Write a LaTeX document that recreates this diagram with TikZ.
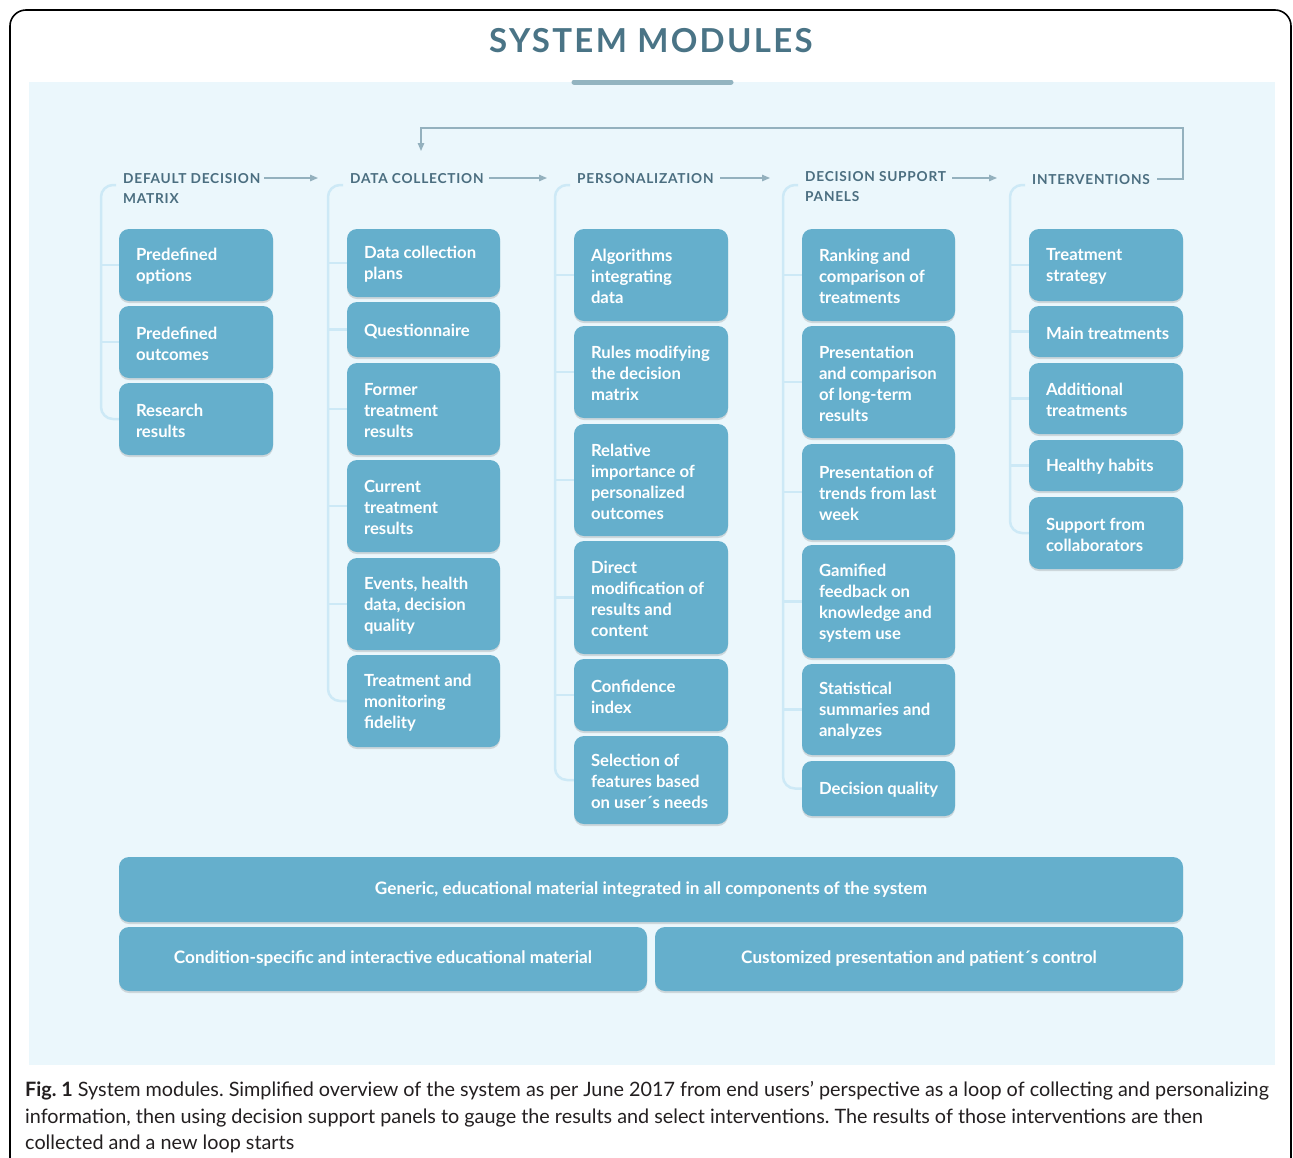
\documentclass[tikz,border=0pt]{standalone}
\usepackage{fontspec}
\setmainfont{Lato}
\frenchspacing
\usetikzlibrary{shadows,arrows.meta}
\definecolor{panelbg}{HTML}{EBF7FC}
\definecolor{boxc}{HTML}{65AFCC}
\definecolor{hdrc}{HTML}{4B6E80}
\definecolor{titlec}{HTML}{4A7486}
\definecolor{brc}{HTML}{CDE9F6}
\definecolor{arrc}{HTML}{94B1BE}
\definecolor{barc}{HTML}{93B4C0}
\definecolor{capc}{HTML}{231F20}
\newcommand\bx[6]{%
  \pgfmathsetmacro\bw{#4-#2}\pgfmathsetmacro\bh{#5-#3}%
  \node[modbox, minimum width=\bw pt, minimum height=\bh pt] (#1) at ({(#2+#4)/2},{(#3+#5)/2}) {};
  \node[boxtxt, anchor=west] (#1t) at ([xshift=17pt,yshift=-1.5pt]#1.west) {#6};}
\newcommand\wbx[6]{%
  \pgfmathsetmacro\bw{#4-#2}\pgfmathsetmacro\bh{#5-#3}%
  \node[modbox, text=white, font=\fontsize{17.2}{21}\selectfont\bfseries, align=center, minimum width=\bw pt, minimum height=\bh pt] (#1) at ({(#2+#4)/2},{(#3+#5)/2}) {#6};}
\begin{document}
\begin{tikzpicture}[x=1pt,y=-1pt,
  modbox/.style={fill=boxc, rounded corners=10pt, inner sep=0pt,
     drop shadow={shadow xshift=0pt, shadow yshift=-2pt, opacity=0.22, fill=black!60}},
  boxtxt/.style={inner sep=0pt, text=white, align=left, font=\fontsize{16.7}{21}\selectfont\bfseries},
  hdr/.style={anchor=base west, inner sep=0pt, text=hdrc, font=\fontsize{13.7}{20}\selectfont\bfseries\addfontfeature{LetterSpace=5.5}},
  arr/.style={draw=arrc, line width=1.3pt, -{Triangle[length=8pt,width=6.5pt]}},
  loopl/.style={draw=arrc, line width=1.3pt},
  br/.style={draw=brc, line width=2.5pt},
  capt/.style={anchor=base west, inner sep=0pt, text=capc, font=\fontsize{19.8}{26}\selectfont}]
\useasboundingbox (0,0) rectangle (1293,1157);
\fill[white] (0,0) rectangle (1293,1157);
\begin{scope}
\clip (0,0) rectangle (1293,1157);
\draw[black, line width=1.6pt, rounded corners=16pt] (10,1220) -- (10,10) -- (1291,10) -- (1291,1220);
\end{scope}
\fill[panelbg] (29,82) rectangle (1275,1065);
\node[inner sep=0pt, text=titlec, font=\fontsize{33}{40}\selectfont\bfseries\addfontfeature{LetterSpace=7}, anchor=base] (title) at (651,52) {SYSTEM MODULES};
\draw[barc, line width=5pt, line cap=round] (574,82) -- (731,82);

% headers
\node[hdr] (h1) at (123,183) {DEFAULT DECISION};
\node[hdr] (h1b) at (123,203) {MATRIX};
\node[hdr] (h2) at (350,183) {DATA COLLECTION};
\node[hdr] (h3) at (577,183) {PERSONALIZATION};
\node[hdr] (h4) at (805,181) {DECISION SUPPORT};
\node[hdr] (h4b) at (805,201) {PANELS};
\node[hdr] (h5) at (1032,184) {INTERVENTIONS};

\coordinate (a1s) at (264,178); \coordinate (a1e) at (318,178);
\coordinate (a2s) at (489,178); \coordinate (a2e) at (547,178);
\coordinate (a3s) at (720,178); \coordinate (a3e) at (770,178);
\coordinate (a4s) at (952,178); \coordinate (a4e) at (997,178);
\coordinate (l5s) at (1157,179); \coordinate (lcorner) at (1183,128); \coordinate (lend) at (421,151);
\draw[arr] (a1s) -- (a1e);
\draw[arr] (a2s) -- (a2e);
\draw[arr] (a3s) -- (a3e);
\draw[arr] (a4s) -- (a4e);
\draw[loopl, -{Triangle[length=8pt,width=6.5pt]}] (l5s) -| (lcorner) -| (lend);

% column 1
\bx{c1a}{119}{229}{273}{301}{Predefined\\options}
\bx{c1b}{119}{306}{273}{378}{Predefined\\outcomes}
\bx{c1c}{119}{383}{273}{455}{Research\\results}
% column 2
\bx{c2a}{347}{229}{500}{297}{Data collection\\plans}
\bx{c2b}{347}{302}{500}{357}{Questionnaire}
\bx{c2c}{347}{363}{500}{455}{Former\\treatment\\results}
\bx{c2d}{347}{460}{500}{552}{Current\\treatment\\results}
\bx{c2e}{347}{558}{500}{650}{Events, health\\data, decision\\quality}
\bx{c2f}{347}{655}{500}{747}{Treatment and\\monitoring\\fidelity}
% column 3
\bx{c3a}{574}{229}{728}{321}{Algorithms\\integrating\\data}
\bx{c3b}{574}{326}{728}{418}{Rules modifying\\the decision\\matrix}
\bx{c3c}{574}{424}{728}{536}{Relative\\importance of\\personalized\\outcomes}
\bx{c3d}{574}{541}{728}{654}{Direct\\modification of\\results and\\content}
\bx{c3e}{574}{659}{728}{731}{Confidence\\index}
\bx{c3f}{574}{736}{728}{824}{Selection of\\features based\\on user´s needs}
% column 4
\bx{c4a}{802}{229}{955}{321}{Ranking and\\comparison of\\treatments}
\bx{c4b}{802}{326}{955}{438}{Presentation\\and comparison\\of long-term\\results}
\bx{c4c}{802}{444}{955}{540}{Presentation of\\trends from last\\week}
\bx{c4d}{802}{545}{955}{658}{Gamified\\feedback on\\knowledge and\\system use}
\bx{c4e}{802}{664}{955}{755}{Statistical\\summaries and\\analyzes}
\bx{c4f}{802}{761}{955}{816}{Decision quality}
% column 5
\bx{c5a}{1029}{229}{1183}{301}{Treatment\\strategy}
\bx{c5b}{1029}{306}{1183}{357}{Main treatments}
\bx{c5c}{1029}{363}{1183}{434}{Additional\\treatments}
\bx{c5d}{1029}{440}{1183}{491}{Healthy habits}
\bx{c5e}{1029}{497}{1183}{569}{Support from\\collaborators}
% bottom
\wbx{g1}{119}{857}{1183}{922}{Generic, educational material integrated in all components of the system}
\wbx{g2}{119}{927}{647}{991}{Condition-specific and interactive educational material}
\wbx{g3}{655}{927}{1183}{991}{Customized presentation and patient´s control}

% brackets
\coordinate (v1) at (101,0); \coordinate (t1) at (116,185);
\coordinate (v2) at (328,0); \coordinate (t2) at (343,185);
\coordinate (v3) at (555,0); \coordinate (t3) at (570,185);
\coordinate (v4) at (783,0); \coordinate (t4) at (798,185);
\coordinate (v5) at (1010,0); \coordinate (t5) at (1025,185);
\draw[br, rounded corners=12pt] (t1) -- (t1 -| v1) -- (v1 |- c1c.west) -- (c1c.west);
\foreach \b in {c1a,c1b} \draw[br] (v1 |- \b.west) -- (\b.west);
\draw[br, rounded corners=12pt] (t2) -- (t2 -| v2) -- (v2 |- c2f.west) -- (c2f.west);
\foreach \b in {c2a,c2b,c2c,c2d,c2e} \draw[br] (v2 |- \b.west) -- (\b.west);
\draw[br, rounded corners=12pt] (t3) -- (t3 -| v3) -- (v3 |- c3f.west) -- (c3f.west);
\foreach \b in {c3a,c3b,c3c,c3d,c3e} \draw[br] (v3 |- \b.west) -- (\b.west);
\draw[br, rounded corners=12pt] (t4) -- (t4 -| v4) -- (v4 |- c4f.west) -- (c4f.west);
\foreach \b in {c4a,c4b,c4c,c4d,c4e} \draw[br] (v4 |- \b.west) -- (\b.west);
\draw[br, rounded corners=12pt] (t5) -- (t5 -| v5) -- (v5 |- c5e.west) -- (c5e.west);
\foreach \b in {c5a,c5b,c5c,c5d} \draw[br] (v5 |- \b.west) -- (\b.west);

% caption
\node[capt] (cap1) at (25,1096) {\textbf{Fig. 1} System modules. Simplified overview of the system as per June 2017 from end users’ perspective as a loop of collecting and personalizing};
\node[capt] (cap2) at (25,1123) {information, then using decision support panels to gauge the results and select interventions. The results of those interventions are then};
\node[capt] (cap3) at (25,1149) {collected and a new loop starts};
\end{tikzpicture}
\end{document}
